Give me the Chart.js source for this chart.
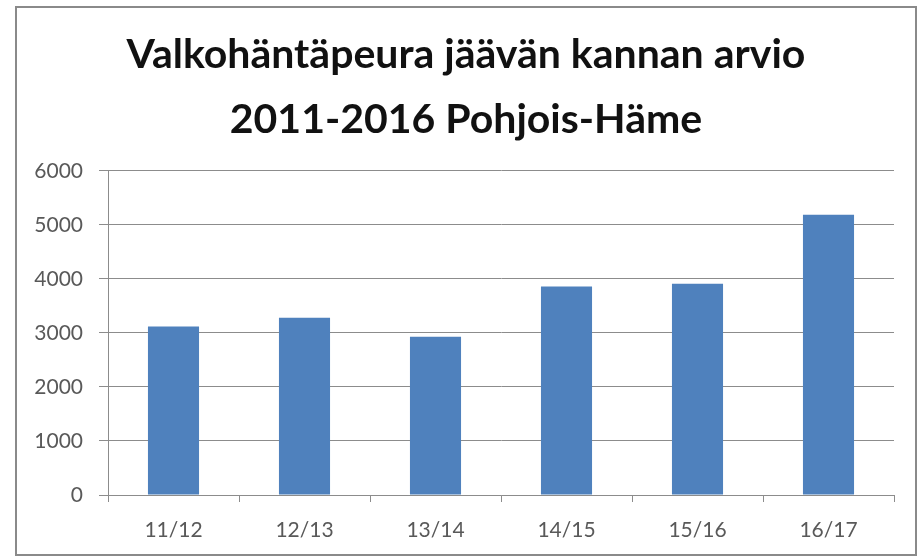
<!DOCTYPE html>
<html>
<head>
<meta charset="utf-8">
<script src="https://cdn.jsdelivr.net/npm/chart.js@4"></script>
<style>
  html, body { margin: 0; padding: 0; background: #fff; }
  #wrap { width: 918px; height: 557px; }
</style>
</head>
<body>
<div id="wrap"><canvas id="myChart"></canvas></div>
<script>
// data
const seasons = ["11/12", "12/13", "13/14", "14/15", "15/16", "16/17"];
const estimates = [3120, 3280, 2930, 3860, 3910, 5190];
const titleLines = ["Valkohäntäpeura jäävän kannan arvio", "2011-2016 Pohjois-Häme"];
const yTicks = [0, 1000, 2000, 3000, 4000, 5000, 6000];

const gridGray = "#8c8c8c";
const labelGray = "#595959";

// thin frame round the whole chart, like the excel chart border
const frame = {
  id: "frame",
  beforeDraw(chart) {
    const ctx = chart.ctx;
    ctx.save();
    ctx.fillStyle = "#fff";
    ctx.fillRect(0, 0, chart.width, chart.height);
    ctx.strokeStyle = "#8a8a8a";
    ctx.lineWidth = 2;
    ctx.strokeRect(16, 7, 900, 548);
    ctx.restore();
  }
};

const statsChart = document.getElementById("myChart");
var myChart = new Chart(statsChart, {
  type: "bar",
  data: {
    labels: seasons,
    datasets: [
      {
        label: "Arvio",
        data: estimates,
        backgroundColor: "#4f81bd",
        borderWidth: 0,
        barPercentage: 0.39,
        categoryPercentage: 1
      }
    ]
  },
  plugins: [frame],
  options: {
    responsive: true,
    maintainAspectRatio: false,
    animation: false,
    layout: { padding: { left: 16, right: 2, top: 7, bottom: 0 } },
    plugins: {
      legend: { display: false },
      tooltip: { enabled: false },
      title: {
        display: true,
        text: titleLines,
        color: "#111",
        font: { family: "Lato", size: 41, weight: "bold", lineHeight: 1.585 },
        padding: { top: 15, bottom: 19 }
      }
    },
    scales: {
      x: {
        grid: {
          display: true,
          drawOnChartArea: false,
          drawTicks: true,
          tickLength: 7,
          color: gridGray
        },
        border: { display: true, color: gridGray, width: 1 },
        ticks: {
          color: labelGray,
          font: { family: "Lato", size: 21 },
          padding: 16
        },
        afterFit(scale) { scale.height = 62; }
      },
      y: {
        min: 0,
        max: 6000,
        afterBuildTicks(scale) {
          scale.ticks = yTicks.map(v => ({ value: v }));
        },
        grid: { color: gridGray, tickLength: 9, drawTicks: true },
        border: { display: true, color: gridGray, width: 1 },
        ticks: {
          color: labelGray,
          font: { family: "Lato", size: 21 },
          padding: 16,
          callback: v => String(v)
        },
        afterFit(scale) { scale.width = 92; }
      },
      // empty axis on the right, only keeps the plot off the frame
      yRight: {
        position: "right",
        display: true,
        grid: { drawOnChartArea: false, drawTicks: false },
        border: { display: false },
        ticks: { display: false },
        afterFit(scale) { scale.width = 22; }
      }
    }
  }
});
</script>
</body>
</html>
